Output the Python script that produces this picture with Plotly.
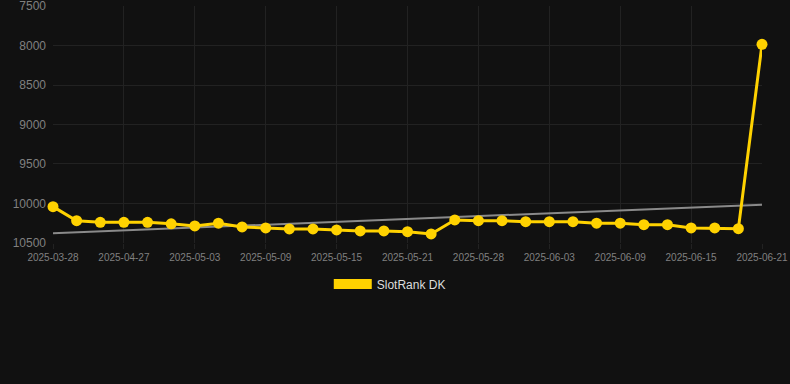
import numpy as np
import plotly.graph_objects as go

dates = ["2025-03-28", "2025-04-21", "2025-04-24", "2025-04-27", "2025-04-29", "2025-05-01",
         "2025-05-03", "2025-05-05", "2025-05-07", "2025-05-09", "2025-05-11", "2025-05-13",
         "2025-05-15", "2025-05-17", "2025-05-19", "2025-05-21", "2025-05-23", "2025-05-26",
         "2025-05-28", "2025-05-30", "2025-06-01", "2025-06-03", "2025-06-05", "2025-06-07",
         "2025-06-09", "2025-06-11", "2025-06-13", "2025-06-15", "2025-06-17", "2025-06-19",
         "2025-06-21"]
ranks = [10040, 10218, 10238, 10238, 10238, 10258, 10285, 10250, 10297, 10310, 10322,
         10322, 10335, 10348, 10348, 10357, 10386, 10209, 10218, 10218, 10230, 10230,
         10230, 10250, 10250, 10268, 10268, 10310, 10310, 10319, 7985]
tick_dates = dates[::3]
y_ticks = [7500, 8000, 8500, 9000, 9500, 10000, 10500]
series_name = "SlotRank DK"

idx = np.arange(len(ranks))
slope, intercept = np.polyfit(idx, ranks, 1)
trend = [intercept + slope * i for i in (idx[0], idx[-1])]

fig = go.Figure()
fig.add_trace(go.Scatter(
    x=[dates[0], dates[-1]], y=trend, mode="lines",
    line=dict(color="#8a8a8a", width=2), showlegend=False, hoverinfo="skip"))
fig.add_trace(go.Scatter(
    x=dates, y=ranks, mode="lines+markers", name=series_name,
    line=dict(color="#FFD200", width=3),
    marker=dict(color="#FFD200", size=11),
    cliponaxis=False, showlegend=False))
fig.add_trace(go.Scatter(
    x=[None], y=[None], mode="lines", name=series_name,
    line=dict(color="#FFD200", width=13), showlegend=True))

fig.update_layout(
    width=790, height=384,
    paper_bgcolor="#111111", plot_bgcolor="#111111",
    margin=dict(l=53, r=28, t=6, b=141),
    font=dict(family="Liberation Sans, Arial, sans-serif", color="#888888"),
    showlegend=True,
    legend=dict(orientation="h", x=0.475, xanchor="center", y=-0.112, yanchor="top",
                font=dict(size=12, color="#dddddd"), itemwidth=38,
                bgcolor="rgba(0,0,0,0)"),
    xaxis=dict(type="category", categoryorder="array", categoryarray=dates,
               range=[0, len(dates) - 1], tickvals=tick_dates, ticktext=tick_dates,
               showgrid=True, gridcolor="#222222", gridwidth=1,
               zeroline=False, showline=False, automargin=False,
               ticks="outside", ticklen=5, tickcolor="#222222",
               ticklabeloverflow="allow",
               tickfont=dict(size=10, color="#808080")),
    yaxis=dict(range=[10500.5, 7499.5], tickvals=y_ticks, tickformat="d",
               showgrid=True, gridcolor="#222222", gridwidth=1,
               zeroline=False, showline=False, automargin=False,
               ticks="", ticklabelstandoff=6, ticklabeloverflow="allow",
               tickfont=dict(size=12, color="#808080")),
)

fig.write_html("out.html", config={"displayModeBar": False},
               post_script="document.body.style.margin='0';document.body.style.background='#111111';")
